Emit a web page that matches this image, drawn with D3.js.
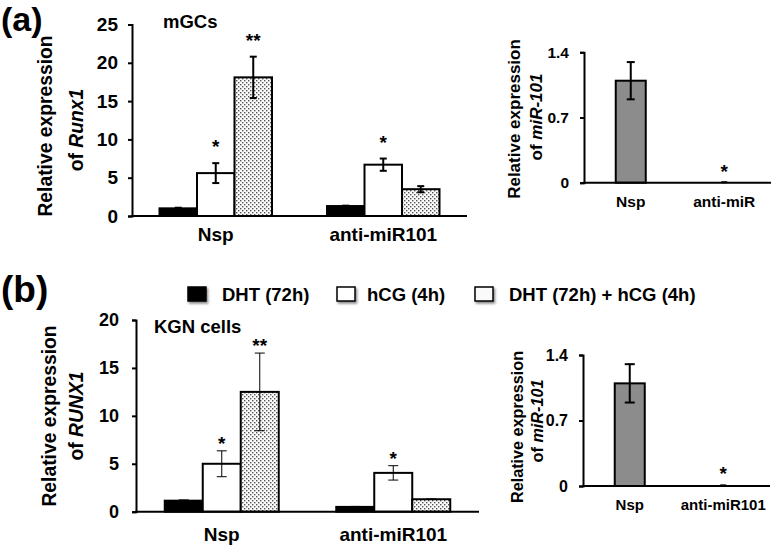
<!DOCTYPE html>
<html>
<head>
<meta charset="utf-8">
<script src="https://cdn.jsdelivr.net/npm/d3@7"></script>
<style>
  body { margin: 0; background: #fff; }
  svg { display: block; font-family: "Liberation Sans", Arial, sans-serif; font-weight: bold; }
</style>
</head>
<body>
<div id="fig"></div>
<script>
// ---- data ----
const groups = ["Nsp", "anti-miR101"];
const seriesNames = ["DHT (72h)", "hCG (4h)", "DHT (72h) + hCG (4h)"];
const groupStars = [["", "*", "**"], ["", "*", ""]];

const mgcMean = [[1.0, 5.6, 18.1], [1.3, 6.7, 3.5]];
const mgcErr = [[0.08, 1.3, 2.7], [0.05, 0.8, 0.4]];
const mgcTicks = [0, 5, 10, 15, 20, 25];

const kgnMean = [[1.15, 5.0, 12.5], [0.5, 4.05, 1.3]];
const kgnErr = [[0.08, 1.35, 4.05], [0.05, 0.75, 0.03]];
const kgnTicks = [0, 5, 10, 15, 20];

const mirGroupsA = ["Nsp", "anti-miR"];
const mirGroupsB = ["Nsp", "anti-miR101"];
const mirMeanA = [1.095, 0.01];
const mirErrA = [0.2, 0];
const mirMeanB = [1.097, 0.012];
const mirErrB = [0.205, 0];
const mirStars = ["", "*"];
const mirTicks = [0, 0.7, 1.4];

const svg = d3.select("#fig").append("svg")
  .attr("width", 773)
  .attr("height", 547);

const defs = svg.append("defs");
const pat = defs.append("pattern")
  .attr("id", "dots")
  .attr("width", 4).attr("height", 4)
  .attr("patternUnits", "userSpaceOnUse");
pat.append("rect").attr("width", 4).attr("height", 4).attr("fill", "#fbfbfb");
pat.append("rect").attr("x", 0).attr("y", 0).attr("width", 1.4).attr("height", 1.4).attr("fill", "#555");
pat.append("rect").attr("x", 2).attr("y", 2).attr("width", 1.4).attr("height", 1.4).attr("fill", "#555");
const shadow = defs.append("filter").attr("id", "shadow")
  .attr("x", "-30%").attr("y", "-30%").attr("width", "170%").attr("height", "170%");
shadow.append("feDropShadow")
  .attr("dx", 1.5).attr("dy", 2).attr("stdDeviation", 1.2)
  .attr("flood-color", "#000").attr("flood-opacity", 0.45);

const seriesFill = ["#000", "#fff", "url(#dots)"];

function leftAxis(g, y, p) {
  const ax = g.append("g")
    .attr("transform", `translate(${p.x0},0)`)
    .call(d3.axisLeft(y).tickValues(p.ticks).tickSize(4).tickSizeOuter(4)
      .tickPadding(p.tickPad).tickFormat(d => d === 0 ? "0" : String(d)));
  ax.select(".domain").attr("stroke", "#000").attr("stroke-width", 2);
  ax.selectAll(".tick line").attr("stroke", "#000").attr("stroke-width", 2);
  ax.selectAll(".tick text")
    .attr("fill", "#000")
    .style("font-size", p.tickSize + "px")
    .style("font-weight", "bold")
    .style("font-family", '"Liberation Sans", Arial, sans-serif');
}

function yLabel(g, p) {
  g.append("text")
    .attr("transform", `translate(${p.lab1x},${p.lab1y}) rotate(-90)`)
    .attr("text-anchor", "middle")
    .style("font-size", p.labSize + "px")
    .text("Relative expression");
  const t = g.append("text")
    .attr("transform", `translate(${p.lab2x},${p.lab2y}) rotate(-90)`)
    .attr("text-anchor", "middle")
    .style("font-size", p.labSize + "px");
  t.append("tspan").text("of ");
  t.append("tspan").style("font-style", "italic").text(p.gene);
}

function errorBars(g, rows, y, p) {
  const eb = g.selectAll(null).data(rows.filter(d => d.e > 0)).enter().append("g")
    .attr("stroke", "#000").attr("stroke-width", p.errW);
  eb.append("line")
    .attr("x1", d => d.cx).attr("x2", d => d.cx)
    .attr("y1", d => y(d.v - d.e)).attr("y2", d => y(d.v + d.e));
  eb.append("line")
    .attr("x1", d => d.cx - p.capW / 2).attr("x2", d => d.cx + p.capW / 2)
    .attr("y1", d => y(d.v + d.e)).attr("y2", d => y(d.v + d.e));
  eb.append("line")
    .attr("x1", d => d.cx - p.capW / 2).attr("x2", d => d.cx + p.capW / 2)
    .attr("y1", d => y(d.v - d.e)).attr("y2", d => y(d.v - d.e));

  g.selectAll(null).data(rows.filter(d => d.star)).enter().append("text")
    .attr("x", d => d.cx)
    .attr("y", d => y(d.v + d.e) - p.starGap)
    .attr("text-anchor", "middle")
    .style("font-size", "19px")
    .text(d => d.star);
}

function groupedPanel(p) {
  const g = svg.append("g");
  const x = d3.scaleBand().domain(p.groups).range([p.x0, p.x1]);
  const xs = d3.scaleBand().domain(d3.range(seriesNames.length))
    .range([-1.5 * p.barW, 1.5 * p.barW]);
  const y = d3.scaleLinear().domain([0, d3.max(p.ticks)]).range([p.yBase, p.yTop]);

  const rows = p.groups.flatMap((grp, gi) => p.mean[gi].map((v, si) => ({
    grp, si, v,
    e: p.err[gi][si],
    star: p.stars[gi][si],
    cx: x(grp) + x.bandwidth() / 2 + xs(si) + xs.bandwidth() / 2
  })));

  g.selectAll(".bar").data(rows).enter().append("rect")
    .attr("class", "bar")
    .attr("x", d => x(d.grp) + x.bandwidth() / 2 + xs(d.si))
    .attr("width", xs.bandwidth())
    .attr("y", d => y(d.v))
    .attr("height", d => y(0) - y(d.v))
    .attr("fill", d => seriesFill[d.si])
    .attr("stroke", "#000")
    .attr("stroke-width", 2);

  errorBars(g, rows, y, p);
  leftAxis(g, y, p);
  g.append("line")
    .attr("x1", p.x0 - 1).attr("x2", p.x1)
    .attr("y1", y(0)).attr("y2", y(0))
    .attr("stroke", "#000").attr("stroke-width", 2);

  g.selectAll(".cat").data(p.groups).enter().append("text")
    .attr("x", d => x(d) + x.bandwidth() / 2)
    .attr("y", p.catY)
    .attr("text-anchor", "middle")
    .style("font-size", p.catSize + "px")
    .text(d => d);

  g.append("text")
    .attr("x", p.titleX).attr("y", p.titleY)
    .style("font-size", "18.5px")
    .text(p.title);

  yLabel(g, p);
}

function mirPanel(p) {
  const g = svg.append("g");
  const x = d3.scaleBand().domain(p.groups).range([p.x0, p.x1]);
  const y = d3.scaleLinear().domain([0, d3.max(p.ticks)]).range([p.yBase, p.yTop]);

  const rows = p.groups.map((grp, i) => ({
    grp, v: p.mean[i], e: p.err[i], star: p.stars[i],
    cx: x(grp) + x.bandwidth() / 2
  }));

  g.selectAll(".bar").data(rows).enter().append("rect")
    .attr("x", d => d.cx - (d.v > 0.05 ? p.barW : 5) / 2)
    .attr("width", d => d.v > 0.05 ? p.barW : 5)
    .attr("y", d => y(d.v))
    .attr("height", d => y(0) - y(d.v))
    .attr("fill", "#8c8c8c")
    .attr("stroke", "#000")
    .attr("stroke-width", d => d.v > 0.05 ? 2 : 1);

  errorBars(g, rows, y, p);
  leftAxis(g, y, p);
  g.append("line")
    .attr("x1", p.x0 - 1).attr("x2", p.x1)
    .attr("y1", y(0)).attr("y2", y(0))
    .attr("stroke", "#000").attr("stroke-width", 2);

  g.selectAll(".cat").data(p.groups).enter().append("text")
    .attr("x", d => x(d) + x.bandwidth() / 2)
    .attr("y", p.catY)
    .attr("text-anchor", "middle")
    .style("font-size", p.catSize + "px")
    .text(d => d);

  yLabel(g, p);
}

// panel letters
svg.append("text").attr("x", 1).attr("y", 31).style("font-size", "34px").text("(a)");
svg.append("text").attr("x", 1).attr("y", 302).style("font-size", "37px").text("(b)");

// (a) mGCs
groupedPanel({
  groups, mean: mgcMean, err: mgcErr, stars: groupStars, ticks: mgcTicks,
  x0: 132, x1: 467, yBase: 216, yTop: 24.5, barW: 37.5,
  tickPad: 10, tickSize: 19, errW: 2, capW: 7, starGap: 10,
  catY: 241, catSize: 19,
  title: "mGCs", titleX: 163, titleY: 28,
  gene: "Runx1", labSize: 19.3, lab1x: 52, lab1y: 126, lab2x: 83, lab2y: 130
});

mirPanel({
  groups: mirGroupsA, mean: mirMeanA, err: mirErrA, stars: mirStars, ticks: mirTicks,
  x0: 584, x1: 771, yBase: 182.7, yTop: 52.3, barW: 30,
  tickPad: 11, tickSize: 15.5, errW: 2, capW: 8, starGap: 4,
  catY: 207, catSize: 15.5,
  gene: "miR-101", labSize: 17, lab1x: 520, lab1y: 119, lab2x: 542, lab2y: 117
});

// legend
const legX = [188, 337, 475];
const legTextX = [222, 367, 509];
const leg = svg.append("g");
leg.selectAll("rect").data(seriesNames).enter().append("rect")
  .attr("x", (d, i) => legX[i]).attr("y", 287)
  .attr("width", 18).attr("height", 14)
  .attr("fill", (d, i) => i === 2 ? "#fafafa" : seriesFill[i])
  .attr("stroke", "#000").attr("stroke-width", 1.5)
  .attr("filter", "url(#shadow)");
leg.selectAll("text").data(seriesNames).enter().append("text")
  .attr("x", (d, i) => legTextX[i]).attr("y", 300.5)
  .style("font-size", "18.5px")
  .text(d => d);

// (b) KGN cells
groupedPanel({
  groups, mean: kgnMean, err: kgnErr, stars: groupStars, ticks: kgnTicks,
  x0: 136, x1: 479, yBase: 511.7, yTop: 320, barW: 38,
  tickPad: 13, tickSize: 18, errW: 1, capW: 10, starGap: 1,
  catY: 541, catSize: 19,
  title: "KGN cells", titleX: 154, titleY: 333,
  gene: "RUNX1", labSize: 19.3, lab1x: 56, lab1y: 416, lab2x: 83, lab2y: 416
});

mirPanel({
  groups: mirGroupsB, mean: mirMeanB, err: mirErrB, stars: mirStars, ticks: mirTicks,
  x0: 583, x1: 770, yBase: 486, yTop: 355, barW: 30,
  tickPad: 11, tickSize: 16, errW: 2, capW: 10, starGap: 5,
  catY: 510, catSize: 15,
  gene: "miR-101", labSize: 16.2, lab1x: 523, lab1y: 427, lab2x: 543, lab2y: 421
});
</script>
</body>
</html>
